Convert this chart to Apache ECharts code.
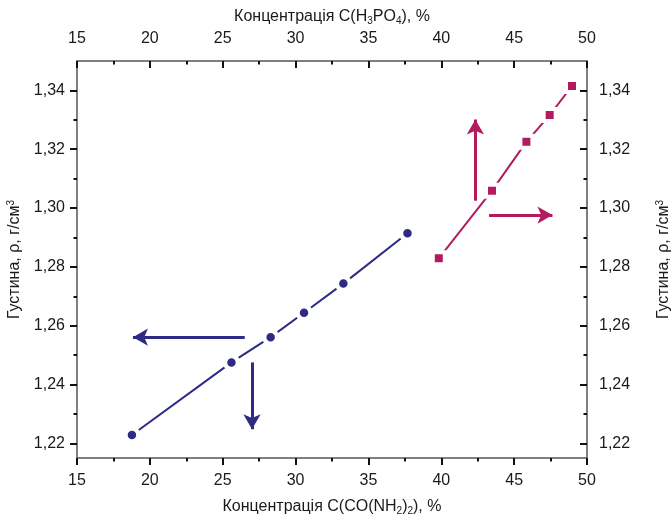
<!DOCTYPE html>
<html>
<head>
<meta charset="utf-8">
<script src="https://cdn.jsdelivr.net/npm/echarts@6/dist/echarts.min.js"></script>
<style>
  html, body { margin: 0; padding: 0; background: #fff; }
  #chart { width: 672px; height: 523px; }
</style>
</head>
<body>
<div id="chart"></div>
<script>
// Density of aqueous urea (bottom/left axes) and phosphoric acid (top/right axes)
const ureaConc     = [18.77, 25.60, 28.29, 30.58, 33.28, 37.68];
const ureaDensity  = [1.2228, 1.2475, 1.2561, 1.2644, 1.2743, 1.2914];
const acidConc     = [39.83, 43.48, 45.84, 47.44, 48.97];
const acidDensity  = [1.2829, 1.3059, 1.3225, 1.3316, 1.3415];

const xTicks       = [15, 20, 25, 30, 35, 40, 45, 50];
const xMinorTicks  = [17.5, 22.5, 27.5, 32.5, 37.5, 42.5, 47.5];
const yTicks       = [1.22, 1.24, 1.26, 1.28, 1.30, 1.32, 1.34];
const yMinorTicks  = [1.23, 1.25, 1.27, 1.29, 1.31, 1.33];

// Pointer arrows showing which axes each curve belongs to: [from, to] in data units
const ureaArrows = [
  [[26.51, 1.2561], [18.84, 1.2561]],
  [[27.01, 1.2475], [27.01, 1.2248]]
];
const acidArrows = [
  [[42.34, 1.3025], [42.34, 1.3301]],
  [[43.28, 1.2976], [47.63, 1.2976]]
];

const BLUE = '#2e2a85';
const PINK = '#b31b5e';
const FONT = '"Liberation Sans", Arial, sans-serif';
const X_MIN = 15, X_MAX = 50, Y_MIN = 1.215, Y_MAX = 1.35;

const fmtY = v => v.toFixed(2).replace('.', ',');
const richName = {
  sub: { fontSize: 10, padding: [8, 0, 0, 0], fontFamily: FONT, color: '#1a1a1a' },
  sup: { fontSize: 10, padding: [0, 0, 8, 0], fontFamily: FONT, color: '#1a1a1a' }
};
const nameStyle = { fontSize: 16, fontFamily: FONT, color: '#1a1a1a', rich: richName };
const labelStyle = { fontSize: 16, fontFamily: FONT, color: '#1a1a1a' };
const frameLine = { show: true, lineStyle: { color: '#555', width: 1.5 } };

function xAxis(pos, inside, opts) {
  return Object.assign({
    type: 'value', position: pos, gridIndex: 0,
    min: X_MIN, max: X_MAX,
    splitLine: { show: false },
    axisLine: frameLine,
    axisTick: { show: true, inside: inside, length: 7, customValues: xTicks,
                lineStyle: { color: '#111', width: 2 } },
    axisLabel: { show: true, customValues: xTicks, margin: 15, ...labelStyle }
  }, opts);
}
function xMinor(pos, inside) {
  return {
    type: 'value', position: pos, gridIndex: 0, min: X_MIN, max: X_MAX,
    splitLine: { show: false }, axisLine: { show: false }, axisLabel: { show: false },
    axisTick: { show: true, inside: inside, length: 3.5, customValues: xMinorTicks,
                lineStyle: { color: '#111', width: 2 } }
  };
}
function yAxis(pos, inside, opts) {
  return Object.assign({
    type: 'value', position: pos, gridIndex: 0,
    min: Y_MIN, max: Y_MAX,
    splitLine: { show: false },
    axisLine: frameLine,
    axisTick: { show: true, inside: inside, length: 7, customValues: yTicks,
                lineStyle: { color: '#111', width: 2 } },
    axisLabel: { show: true, customValues: yTicks, formatter: fmtY, margin: 12, ...labelStyle }
  }, opts);
}
function yMinor(pos, inside) {
  return {
    type: 'value', position: pos, gridIndex: 0, min: Y_MIN, max: Y_MAX,
    splitLine: { show: false }, axisLine: { show: false }, axisLabel: { show: false },
    axisTick: { show: true, inside: inside, length: 3.5, customValues: yMinorTicks,
                lineStyle: { color: '#111', width: 2 } }
  };
}

function arrowLines(list, color) {
  return {
    silent: true, animation: false,
    symbolSize: [13, 15],
    label: { show: false },
    emphasis: { disabled: true },
    lineStyle: { color: color, width: 3, type: 'solid' },
    data: list.map(([a, b]) => [
      { coord: a, symbol: 'none' },
      { coord: b, symbol: 'arrow' }
    ])
  };
}

const chart = echarts.init(document.getElementById('chart'), null, { renderer: 'canvas' });
chart.setOption({
  animation: false,
  backgroundColor: '#fff',
  grid: { left: 77, right: 85, top: 61, bottom: 65, containLabel: false, outerBoundsMode: 'none' },
  xAxis: [
    xAxis('bottom', false, {
      name: 'Концентрація C(CO(NH{sub|2}){sub|2}), %',
      nameLocation: 'middle', nameGap: 40, nameTextStyle: nameStyle
    }),
    xAxis('top', true, {
      name: 'Концентрація C(H{sub|3}PO{sub|4}), %',
      nameLocation: 'middle', nameGap: 35, nameTextStyle: nameStyle,
      axisLabel: { show: true, customValues: xTicks, margin: 14, ...labelStyle }
    }),
    xMinor('bottom', false),
    xMinor('top', true)
  ],
  yAxis: [
    yAxis('left', false, {
      name: 'Густина, ρ, г/см{sup|3}',
      nameLocation: 'middle', nameGap: 47, nameRotate: 90, nameTextStyle: nameStyle
    }),
    yAxis('right', true, {
      name: 'Густина, ρ, г/см{sup|3}',
      nameLocation: 'middle', nameGap: 68, nameRotate: 90, nameTextStyle: nameStyle
    }),
    yMinor('left', false),
    yMinor('right', true)
  ],
  series: [
    {
      name: 'CO(NH2)2', type: 'line', xAxisIndex: 0, yAxisIndex: 0,
      data: ureaConc.map((x, i) => [x, ureaDensity[i]]),
      symbol: 'circle', symbolSize: 13,
      lineStyle: { color: BLUE, width: 2 },
      itemStyle: { color: BLUE, borderColor: '#fff', borderWidth: 4.5 },
      emphasis: { disabled: true },
      markLine: arrowLines(ureaArrows, BLUE)
    },
    {
      name: 'H3PO4', type: 'line', xAxisIndex: 1, yAxisIndex: 1,
      data: acidConc.map((x, i) => [x, acidDensity[i]]),
      symbol: 'rect', symbolSize: 12,
      lineStyle: { color: PINK, width: 2 },
      itemStyle: { color: PINK, borderColor: '#fff', borderWidth: 4 },
      emphasis: { disabled: true },
      markLine: arrowLines(acidArrows, PINK)
    }
  ]
});
</script>
</body>
</html>
